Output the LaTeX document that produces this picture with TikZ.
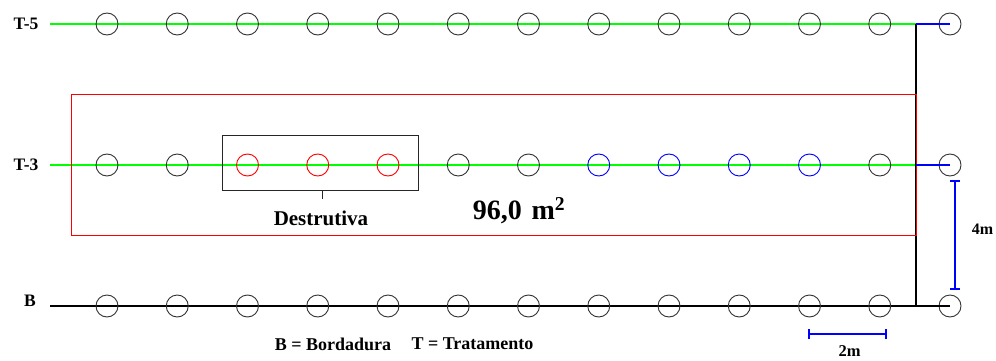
\documentclass[tikz,border=0pt]{standalone}
\usepackage{fontspec}
\setmainfont{Liberation Serif}
\begin{document}
\begin{tikzpicture}[x=1pt,y=-1pt,
  plant/.style={circle, draw=#1, line width=0.9pt, minimum size=22pt, inner sep=0pt},
  plant/.default={black!80},
  rowline/.style={line width=1.3pt},
  lbl/.style={font=\bfseries\fontsize{17.5}{20}\selectfont, inner sep=0pt},
  dimline/.style={blue, line width=1.2pt}]
\useasboundingbox (0,0) rectangle (996,361);

% row start points and the junction with the vertical line
\coordinate (s5) at (50,24);
\coordinate (s3) at (50,165);
\coordinate (sb) at (50,306);
\coordinate (j5) at (916,24);
\coordinate (j3) at (916,165);
\coordinate (jb) at (916,306);

% row lines
\draw[rowline, green] (s5) -- (j5);
\draw[rowline, green] (s3) -- (j3);
\draw[rowline, black] (sb) -- (jb);
\draw[line width=1.2pt, black] (j5) -- (jb);

% plot area
\draw[line width=1pt, red] (71,94) rectangle (916,235);

% plants
\foreach \i in {1,...,13} {
  \pgfmathsetmacro{\px}{107+70.25*(\i-1)}
  \node[plant] (p5-\i) at (\px,24) {};
  \node[plant] (pb-\i) at (\px,306) {};
}
\foreach \i/\c in {1/black!80,2/black!80,3/red,4/red,5/red,6/black!80,7/black!80,
                   8/blue,9/blue,10/blue,11/blue,12/black!80,13/black!80} {
  \pgfmathsetmacro{\px}{107+70.25*(\i-1)}
  \node[plant=\c] (p3-\i) at (\px,165) {};
}

% end segments towards the border plants
\draw[rowline, blue] (j5) -- (p5-13.center);
\draw[rowline, blue] (j3) -- (p3-13.center);
\draw[rowline, black] (jb) -- (pb-13.center);

% row labels
\node[lbl] (t5) at (26,24) {T-5};
\node[lbl] (t3) at (26,165) {T-3};
\node[lbl] (tb) at (30,301) {B};

% destructive sampling box
\node[draw=black!85, line width=1pt, minimum width=196pt, minimum height=55pt, inner sep=0pt]
  (dbox) at (320,162.5) {};
\coordinate (dtick) at (322,199);
\draw[line width=1pt, black!85] (dbox.south -| dtick) -- (dtick);
\node[lbl, font=\bfseries\fontsize{21}{24}\selectfont] (dlab) at (321,218) {Destrutiva};

% area
\node[font=\bfseries\fontsize{28}{31}\selectfont, inner sep=0pt] (area) at (519,211)
  {96,0\hspace{0.35em}m\textsuperscript{2}};

% 4 m spacing between rows
\coordinate (d4a) at (955,181);
\coordinate (d4b) at (955,289);
\draw[dimline] (d4a) -- (d4b);
\draw[dimline] ([xshift=-5pt]d4a) -- ([xshift=5pt]d4a);
\draw[dimline] ([xshift=-5pt]d4b) -- ([xshift=5pt]d4b);
\node[lbl, font=\bfseries\fontsize{16}{18}\selectfont] (l4) at (982.5,229) {4m};

% 2 m spacing between plants
\coordinate (d2a) at (809,334);
\coordinate (d2b) at (886,334);
\draw[dimline] (d2a) -- (d2b);
\draw[dimline] ([yshift=-5pt]d2a) -- ([yshift=5pt]d2a);
\draw[dimline] ([yshift=-5pt]d2b) -- ([yshift=5pt]d2b);
\node[lbl, font=\bfseries\fontsize{16.5}{18}\selectfont] (l2) at (849.5,351.5) {2m};

% legend
\node[lbl, font=\bfseries\fontsize{18}{20}\selectfont] (legb) at (333,344) {B = Bordadura};
\node[lbl, font=\bfseries\fontsize{18}{20}\selectfont] (legt) at (472.5,344) {T = Tratamento};
\end{tikzpicture}
\end{document}
